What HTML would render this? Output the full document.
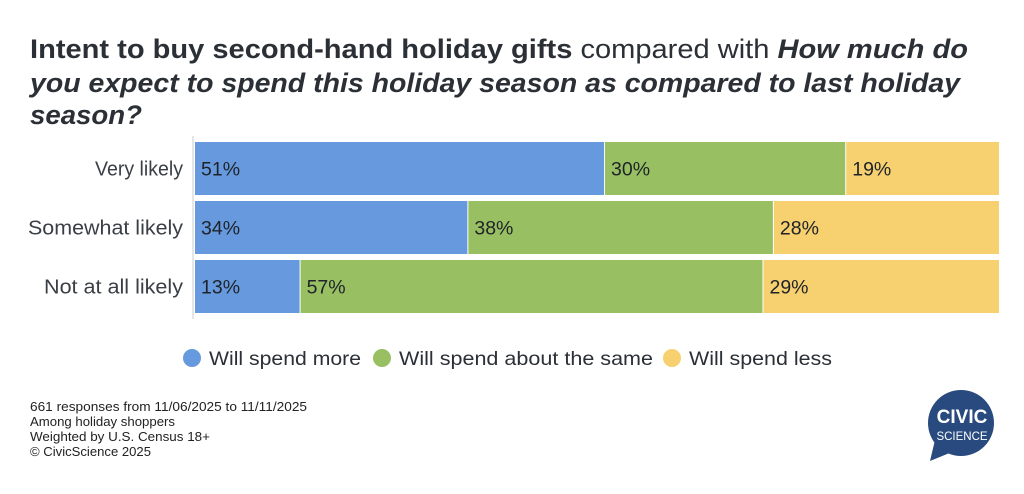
<!DOCTYPE html>
<html><head><meta charset="utf-8"><style>
body{margin:0;background:#fff}
svg{display:block;font-family:"Liberation Sans",Arial,sans-serif}
</style></head><body>
<svg id="chart" width="1024" height="494" viewBox="0 0 1024 494">
<g fill="#2b2f36" font-size="27">
<text x="30" y="58" textLength="938" lengthAdjust="spacingAndGlyphs"><tspan font-weight="bold">Intent to buy second-hand holiday gifts</tspan> compared with <tspan font-weight="bold" font-style="italic">How much do</tspan></text>
<text x="30" y="92" textLength="930" lengthAdjust="spacingAndGlyphs" font-weight="bold" font-style="italic">you expect to spend this holiday season as compared to last holiday</text>
<text x="30" y="124" textLength="112" lengthAdjust="spacingAndGlyphs" font-weight="bold" font-style="italic">season?</text>
</g>
<line x1="193" y1="136" x2="193" y2="319" stroke="#ddd" stroke-width="1.5"/>
<g id="bars"></g>
<g font-size="19.5" fill="#2b2f36">
<g><circle cx="192" cy="358" r="9" fill="#6699dd"/><text x="209" y="365" textLength="152" lengthAdjust="spacingAndGlyphs">Will spend more</text></g>
<g><circle cx="382" cy="358" r="9" fill="#98c063"/><text x="399" y="365" textLength="254" lengthAdjust="spacingAndGlyphs">Will spend about the same</text></g>
<g><circle cx="672" cy="358" r="9" fill="#f7d070"/><text x="689" y="365" textLength="143" lengthAdjust="spacingAndGlyphs">Will spend less</text></g>
</g>
<g font-size="12.5" fill="#222">
<text x="30" y="411" textLength="277" lengthAdjust="spacingAndGlyphs">661 responses from 11/06/2025 to 11/11/2025</text>
<text x="30" y="426" textLength="145" lengthAdjust="spacingAndGlyphs">Among holiday shoppers</text>
<text x="30" y="441" textLength="180" lengthAdjust="spacingAndGlyphs">Weighted by U.S. Census 18+</text>
<text x="30" y="456" textLength="121" lengthAdjust="spacingAndGlyphs">© CivicScience 2025</text>
</g>
<g>
<circle cx="961" cy="423" r="33" fill="#284a7e"/>
<path d="M935 440 L930 461 L952 452 Z" fill="#284a7e"/>
<text x="962" y="423" text-anchor="middle" fill="#fff" font-size="19" font-weight="bold">CIVIC</text>
<text x="962" y="440" text-anchor="middle" fill="#fff" font-size="11.5">SCIENCE</text>
</g>
</svg>
<script>
const categories = ["Very likely","Somewhat likely","Not at all likely"];
const seriesNames = ["Will spend more","Will spend about the same","Will spend less"];
const spendMore = [51,34,13];
const spendSame = [30,38,57];
const spendLess = [19,28,29];
const colors = ["#6699dd","#98c063","#f7d070"];
const labelWidths = [88, 155, 139];
const x0 = 195, x1 = 999;
const rowTop = [142,201,260], barH = 53;
const xScale = v => x0 + (x1 - x0) * v / 100;
const g = document.getElementById('bars');
const NS = "http://www.w3.org/2000/svg";
const series = [spendMore, spendSame, spendLess];
categories.forEach((cat, i) => {
  const y = rowTop[i];
  const lab = document.createElementNS(NS,'text');
  
  
  lab.setAttribute('x', 183); lab.setAttribute('y', y + barH/2 + 7);
  lab.setAttribute('text-anchor','end'); lab.setAttribute('font-size','20'); lab.setAttribute('fill','#3a3e45');
  lab.setAttribute('textLength', labelWidths[i]); lab.setAttribute('lengthAdjust','spacingAndGlyphs');
  lab.textContent = cat; g.appendChild(lab);
  const total = series.reduce((s,a)=>s+a[i],0);
  let cum = 0;
  series.forEach((arr, k) => {
    const v = arr[i] / total * 100;
    const xa = xScale(cum), xb = xScale(cum + v);
    const r = document.createElementNS(NS,'rect');
    
    
    r.setAttribute('x', xa); r.setAttribute('y', y);
    r.setAttribute('width', Math.max(0, xb - xa - (k < 2 ? 1 : 0))); r.setAttribute('height', barH);
    r.setAttribute('fill', colors[k]);
    g.appendChild(r);
    const t = document.createElementNS(NS,'text');
    
    
    t.setAttribute('x', xa + 6); t.setAttribute('y', y + barH/2 + 7);
    t.setAttribute('font-size','19.5'); t.setAttribute('fill','#1f2329');
    t.textContent = arr[i] + '%';
    g.appendChild(t);
    cum += v;
  });
});
</script>
</body></html>
